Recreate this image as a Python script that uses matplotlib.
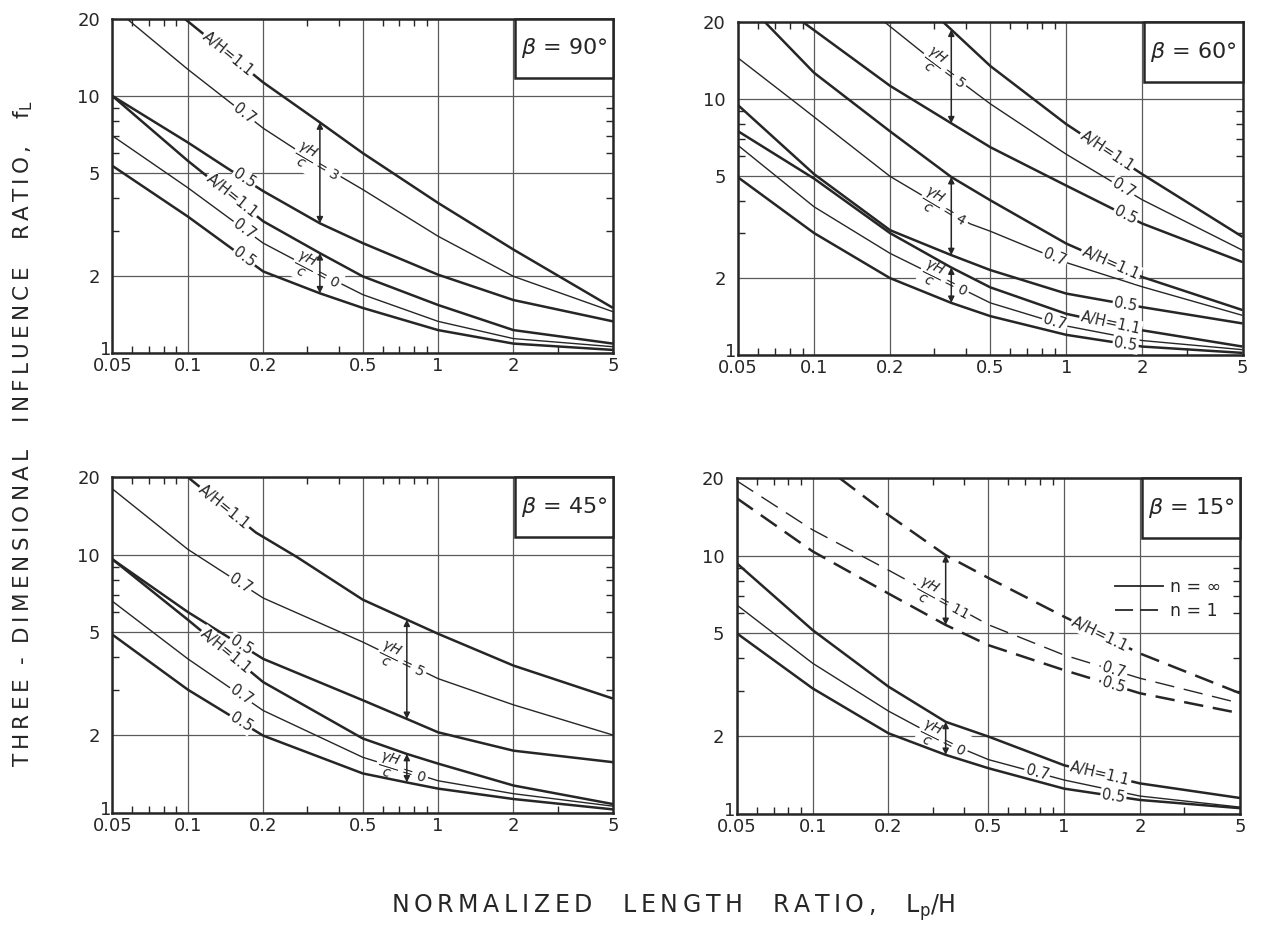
import numpy as np
import matplotlib
matplotlib.use("Agg")
import matplotlib.pyplot as plt
from matplotlib.patches import Rectangle
from matplotlib.lines import Line2D
from matplotlib.ticker import NullFormatter
from matplotlib.transforms import ScaledTranslation

plt.rcParams["font.family"] = ["DejaVu Sans"]
plt.rcParams["lines.scale_dashes"] = False

# ---------------- data ----------------
# axis ticks
xticks = [0.05, 0.1, 0.2, 0.5, 1, 2, 5]
xtick_labels = ["0.05", "0.1", "0.2", "0.5", "1", "2", "5"]
yticks = [1, 2, 5, 10, 20]
ytick_labels = ["1", "2", "5", "10", "20"]
xminor = [0.06, 0.07, 0.08, 0.09, 0.3, 0.4, 0.6, 0.7, 0.8, 0.9, 3]
yminor = [3, 4, 6, 7, 8, 9]

# beta = 90 deg ;  gH/c = 3  and  gH/c = 0
x90_3_11 = [0.097, 0.2, 0.337, 0.5, 1, 2, 5]
y90_3_11 = [20, 11.3, 7.9, 6.0, 3.84, 2.53, 1.5]
x90_3_07 = [0.057, 0.1, 0.2, 0.3, 0.5, 1, 2, 5]
y90_3_07 = [20, 12.7, 7.5, 5.8, 4.33, 2.85, 1.99, 1.45]
x90_3_05 = [0.05, 0.1, 0.143, 0.2, 0.337, 0.5, 1, 2, 5]
y90_3_05 = [10, 6.6, 5.26, 4.27, 3.2, 2.68, 2.02, 1.61, 1.33]
x90_0 = [0.05, 0.1, 0.2, 0.337, 0.5, 1, 2, 5]
y90_0_11 = [10, 5.6, 3.26, 2.45, 1.99, 1.54, 1.23, 1.09]
y90_0_07 = [7.0, 4.4, 2.68, 2.05, 1.69, 1.33, 1.14, 1.06]
y90_0_05 = [5.35, 3.4, 2.08, 1.71, 1.5, 1.23, 1.09, 1.03]

# beta = 60 deg ;  gH/c = 5, 4, 0
x60_5_11 = [0.326, 0.5, 1, 2, 5]
y60_5_11 = [20, 13.5, 8.0, 5.1, 2.9]
x60_5_07 = [0.191, 0.3, 0.5, 1, 2, 5]
y60_5_07 = [20, 14.0, 9.6, 6.1, 4.05, 2.57]
x60_5_05 = [0.0907, 0.2, 0.5, 1, 2, 5]
y60_5_05 = [20, 11.3, 6.5, 4.6, 3.27, 2.31]
x60_4_11 = [0.064, 0.1, 0.2, 0.35, 0.5, 1, 2, 5]
y60_4_11 = [20, 12.7, 7.5, 4.97, 4.03, 2.73, 2.02, 1.5]
x60_4_07 = [0.05, 0.087, 0.2, 0.416, 0.5, 1, 2, 5]
y60_4_07 = [14.5, 9.5, 5.0, 3.26, 3.05, 2.3, 1.85, 1.43]
x60_4_05 = [0.05, 0.1, 0.2, 0.35, 0.5, 1, 2, 5]
y60_4_05 = [9.48, 5.1, 3.08, 2.46, 2.15, 1.74, 1.54, 1.33]
x60_0_11 = [0.05, 0.1, 0.2, 0.35, 0.5, 1, 2, 5]
y60_0_11 = [7.5, 4.9, 3.0, 2.2, 1.84, 1.45, 1.25, 1.08]
x60_0_07 = [0.05, 0.1, 0.2, 0.5, 1, 2, 5]
y60_0_07 = [6.6, 3.8, 2.5, 1.6, 1.3, 1.14, 1.05]
x60_0_05 = [0.05, 0.1, 0.2, 0.35, 0.5, 1, 2, 5]
y60_0_05 = [4.95, 3.0, 2.0, 1.6, 1.42, 1.2, 1.08, 1.02]

# beta = 45 deg ;  gH/c = 5 and 0
x45_5_11 = [0.1, 0.187, 0.273, 0.5, 1, 2, 5]
y45_5_11 = [20, 12.2, 9.8, 6.7, 4.94, 3.72, 2.77]
x45_5_07 = [0.05, 0.1, 0.2, 0.5, 1, 2, 5]
y45_5_07 = [18.0, 10.5, 6.8, 4.59, 3.31, 2.62, 2.0]
x45_5_05 = [0.05, 0.1, 0.2, 0.5, 0.75, 1, 2, 5]
y45_5_05 = [9.6, 6.0, 3.95, 2.73, 2.31, 2.05, 1.74, 1.57]
x45_0_11 = [0.05, 0.1, 0.2, 0.5, 0.75, 1, 2, 5]
y45_0_11 = [9.6, 5.6, 3.21, 1.94, 1.69, 1.55, 1.275, 1.08]
x45_0_07 = [0.05, 0.1, 0.2, 0.5, 1, 2, 5]
y45_0_07 = [6.6, 3.95, 2.49, 1.64, 1.33, 1.185, 1.06]
x45_0_05 = [0.05, 0.1, 0.2, 0.5, 0.75, 1, 2, 5]
y45_0_05 = [4.9, 3.0, 1.99, 1.42, 1.31, 1.24, 1.13, 1.03]

# beta = 15 deg ;  n = inf (gH/c = 0)  and  n = 1 (gH/c = 11)
x15_0 = [0.05, 0.1, 0.2, 0.338, 0.5, 1, 2, 5]
y15_0_11 = [9.34, 5.15, 3.11, 2.27, 1.99, 1.54, 1.31, 1.15]
y15_0_07 = [6.44, 3.83, 2.5, 1.9, 1.62, 1.35, 1.17, 1.06]
y15_0_05 = [5.0, 3.06, 2.05, 1.69, 1.5, 1.25, 1.13, 1.05]
x15_11_11 = [0.128, 0.2, 0.338, 0.5, 1, 2, 5]
y15_11_11 = [20, 14.4, 10.05, 8.2, 5.8, 4.18, 2.93]
x15_11_07 = [0.05, 0.1, 0.2, 0.5, 1, 2, 5]
y15_11_07 = [19.5, 12.6, 8.8, 5.4, 4.12, 3.35, 2.68]
x15_11_05 = [0.05, 0.1, 0.2, 0.338, 0.5, 1, 2, 5]
y15_11_05 = [16.7, 10.4, 7.14, 5.39, 4.5, 3.6, 2.93, 2.45]

INK = "#262626"
GRID = "#5a5a5a"


def spaced(s, gap="\u2009"):
    # hand lettering on the original is widely letter-spaced
    return gap.join(s)


def on_curve(xs, ys, x0):
    return 10 ** np.interp(np.log10(x0), np.log10(xs), np.log10(ys))


def curve(ax, xs, ys, ah, dashed=False):
    # thin (A/H = 0.7) curves sit below the labels, thick ones above them
    thin = ah == "0.7"
    ls = (0, (14, 7)) if dashed else "-"
    ax.plot(xs, ys, color=INK, lw=1.0 if thin else 1.8, ls=ls,
            zorder=1.5 if thin else 2.5, solid_capstyle="butt")


def label(ax, xs, ys, x0, text, thin=False, size=10.5):
    y0 = on_curve(xs, ys, x0)
    p1 = ax.transData.transform((x0 / 1.1, on_curve(xs, ys, x0 / 1.1)))
    p2 = ax.transData.transform((x0 * 1.1, on_curve(xs, ys, x0 * 1.1)))
    ang = np.degrees(np.arctan2(p2[1] - p1[1], p2[0] - p1[0]))
    ax.text(x0, y0, text, rotation=ang, rotation_mode="anchor",
            ha="center", va="center", fontsize=size, color=INK,
            zorder=2 if thin else 3,
            bbox=dict(boxstyle="square,pad=0.1", fc="white", ec="none"))


def gap_arrow(ax, x0, xs_top, ys_top, xs_bot, ys_bot):
    ax.annotate("", xy=(x0, on_curve(xs_top, ys_top, x0)),
                xytext=(x0, on_curve(xs_bot, ys_bot, x0)),
                arrowprops=dict(arrowstyle="<|-|>", color=INK, lw=1.1,
                                mutation_scale=9, shrinkA=0, shrinkB=0),
                zorder=4)


def frac(v):
    return r"$\dfrac{\gamma H}{c}$ = " + v


AH = "A/H=1.1"
A07 = "0.7"
A05 = "0.5"
FS = 10


def setup(ax, beta):
    ax.set_xscale("log")
    ax.set_yscale("log")
    ax.set_xlim(0.05, 5)
    ax.set_ylim(1, 20)
    ax.set_xticks(xticks)
    ax.set_xticklabels(xtick_labels)
    ax.set_yticks(yticks)
    ax.set_yticklabels(ytick_labels)
    ax.set_xticks(xminor, minor=True)
    ax.set_yticks(yminor, minor=True)
    ax.xaxis.set_minor_formatter(NullFormatter())
    ax.yaxis.set_minor_formatter(NullFormatter())
    ax.tick_params(which="major", length=0, labelsize=13, colors=INK)
    ax.tick_params(axis="x", which="major", pad=3)
    ax.tick_params(axis="y", which="major", pad=9)
    ax.tick_params(which="minor", direction="in", length=5, width=1.0,
                   color=INK, top=True, right=True)
    ax.grid(which="major", color=GRID, lw=0.9)
    ax.set_axisbelow(True)
    for s in ax.spines.values():
        s.set_linewidth(1.8)
        s.set_color(INK)
    # the "1" sits tucked above the "0.05" in the corner
    one = ax.get_yticklabels()[0]
    one.set_transform(one.get_transform() +
                      ScaledTranslation(0.11, 0.05, fig.dpi_scale_trans))
    ax.add_patch(Rectangle((0.805, 0.822), 0.195, 0.178, transform=ax.transAxes,
                           fc="white", ec=INK, lw=1.8, zorder=5, clip_on=False))
    ax.text(0.9025, 0.911, r"$\beta$ = " + beta, transform=ax.transAxes,
            ha="center", va="center", fontsize=16, color=INK, zorder=6)


fig = plt.figure(figsize=(12.64, 9.32), dpi=100)
fig.patch.set_facecolor("white")

# ---------- beta = 90 ----------
ax = fig.add_axes([0.089, 0.621, 0.396, 0.359])
setup(ax, "90°")
curve(ax, x90_3_11, y90_3_11, "1.1")
curve(ax, x90_3_07, y90_3_07, "0.7")
curve(ax, x90_3_05, y90_3_05, "0.5")
curve(ax, x90_0, y90_0_11, "1.1")
curve(ax, x90_0, y90_0_07, "0.7")
curve(ax, x90_0, y90_0_05, "0.5")
label(ax, x90_3_11, y90_3_11, 0.145, AH)
label(ax, x90_3_07, y90_3_07, 0.168, A07, True)
label(ax, x90_3_05, y90_3_05, 0.168, A05)
label(ax, x90_0, y90_0_11, 0.15, AH)
label(ax, x90_0, y90_0_07, 0.168, A07, True)
label(ax, x90_0, y90_0_05, 0.168, A05)
label(ax, x90_3_07, y90_3_07, 0.33, frac("3"), True, FS)
label(ax, x90_0, y90_0_07, 0.33, frac("0"), True, FS)
gap_arrow(ax, 0.337, x90_3_11, y90_3_11, x90_3_05, y90_3_05)
gap_arrow(ax, 0.337, x90_0, y90_0_11, x90_0, y90_0_05)

# ---------- beta = 60 ----------
ax = fig.add_axes([0.584, 0.619, 0.399, 0.357])
setup(ax, "60°")
curve(ax, x60_5_11, y60_5_11, "1.1")
curve(ax, x60_5_07, y60_5_07, "0.7")
curve(ax, x60_5_05, y60_5_05, "0.5")
curve(ax, x60_4_11, y60_4_11, "1.1")
curve(ax, x60_4_07, y60_4_07, "0.7")
curve(ax, x60_4_05, y60_4_05, "0.5")
curve(ax, x60_0_11, y60_0_11, "1.1")
curve(ax, x60_0_07, y60_0_07, "0.7")
curve(ax, x60_0_05, y60_0_05, "0.5")
label(ax, x60_5_11, y60_5_11, 1.45, AH)
label(ax, x60_5_07, y60_5_07, 1.68, A07, True)
label(ax, x60_5_05, y60_5_05, 1.72, A05)
label(ax, x60_4_11, y60_4_11, 1.5, AH)
label(ax, x60_4_07, y60_4_07, 0.9, A07, True)
label(ax, x60_4_05, y60_4_05, 1.72, A05)
label(ax, x60_0_11, y60_0_11, 1.5, AH)
label(ax, x60_0_07, y60_0_07, 0.9, A07, True)
label(ax, x60_0_05, y60_0_05, 1.72, A05)
label(ax, x60_5_07, y60_5_07, 0.33, frac("5"), True, FS)
label(ax, x60_4_07, y60_4_07, 0.33, frac("4"), True, FS)
label(ax, x60_0_07, y60_0_07, 0.33, frac("0"), True, FS)
gap_arrow(ax, 0.35, x60_5_11, y60_5_11, x60_5_05, y60_5_05)
gap_arrow(ax, 0.35, x60_4_11, y60_4_11, x60_4_05, y60_4_05)
gap_arrow(ax, 0.35, x60_0_11, y60_0_11, x60_0_05, y60_0_05)

# ---------- beta = 45 ----------
ax = fig.add_axes([0.089, 0.128, 0.396, 0.360])
setup(ax, "45°")
curve(ax, x45_5_11, y45_5_11, "1.1")
curve(ax, x45_5_07, y45_5_07, "0.7")
curve(ax, x45_5_05, y45_5_05, "0.5")
curve(ax, x45_0_11, y45_0_11, "1.1")
curve(ax, x45_0_07, y45_0_07, "0.7")
curve(ax, x45_0_05, y45_0_05, "0.5")
label(ax, x45_5_11, y45_5_11, 0.14, AH)
label(ax, x45_5_07, y45_5_07, 0.162, A07, True)
label(ax, x45_5_05, y45_5_05, 0.163, A05)
label(ax, x45_0_11, y45_0_11, 0.142, AH)
label(ax, x45_0_07, y45_0_07, 0.163, A07, True)
label(ax, x45_0_05, y45_0_05, 0.163, A05)
label(ax, x45_5_07, y45_5_07, 0.72, frac("5"), True, FS)
label(ax, x45_0_07, y45_0_07, 0.72, frac("0"), True, FS)
gap_arrow(ax, 0.75, x45_5_11, y45_5_11, x45_5_05, y45_5_05)
gap_arrow(ax, 0.75, x45_0_11, y45_0_11, x45_0_05, y45_0_05)

# ---------- beta = 15 ----------
ax = fig.add_axes([0.583, 0.127, 0.398, 0.360])
setup(ax, "15°")
curve(ax, x15_0, y15_0_11, "1.1")
curve(ax, x15_0, y15_0_07, "0.7")
curve(ax, x15_0, y15_0_05, "0.5")
curve(ax, x15_11_11, y15_11_11, "1.1", dashed=True)
curve(ax, x15_11_07, y15_11_07, "0.7", dashed=True)
curve(ax, x15_11_05, y15_11_05, "0.5", dashed=True)
label(ax, x15_11_11, y15_11_11, 1.39, AH)
label(ax, x15_11_07, y15_11_07, 1.57, A07, True)
label(ax, x15_11_05, y15_11_05, 1.57, A05)
label(ax, x15_0, y15_0_11, 1.39, AH)
label(ax, x15_0, y15_0_07, 0.78, A07, True)
label(ax, x15_0, y15_0_05, 1.57, A05)
label(ax, x15_11_07, y15_11_07, 0.33, frac("11"), True, FS)
label(ax, x15_0, y15_0_07, 0.33, frac("0"), True, FS)
gap_arrow(ax, 0.338, x15_11_11, y15_11_11, x15_11_05, y15_11_05)
gap_arrow(ax, 0.338, x15_0, y15_0_11, x15_0, y15_0_05)
handles = [Line2D([], [], color=INK, lw=1.3),
           Line2D([], [], color=INK, lw=1.3, ls=(0, (13, 5)))]
ax.legend(handles, ["n = ∞", "n = 1"], loc="upper left",
          bbox_to_anchor=(0.72, 0.75), frameon=False, fontsize=12.5,
          handlelength=2.8, handletextpad=0.4, labelspacing=0.35,
          labelcolor=INK)

ylab = (spaced("THREE") + "  -  " + spaced("DIMENSIONAL") + "    " +
        spaced("INFLUENCE") + "    " + spaced("RATIO,") + "    " +
        r"$\mathregular{f_L}$")
xlab = (spaced("NORMALIZED") + "    " + spaced("LENGTH") + "    " +
        spaced("RATIO,") + "    " + r"$\mathregular{L_p/H}$")
fig.text(0.018, 0.535, ylab, rotation=90, ha="center", va="center",
         fontsize=15.5, color=INK)
fig.text(0.533, 0.026, xlab, ha="center", va="center", fontsize=17, color=INK)

fig.savefig("out.png", dpi=100, facecolor="white")
